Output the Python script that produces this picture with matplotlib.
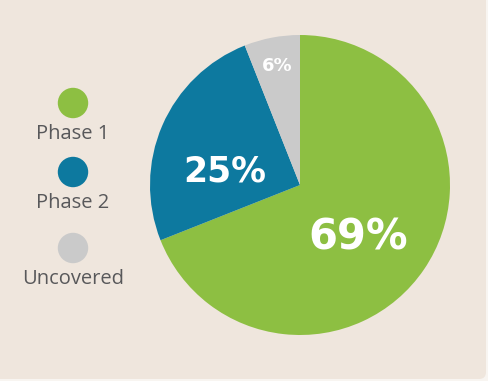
import matplotlib
matplotlib.use("Agg")
import matplotlib.pyplot as plt
from matplotlib.patches import FancyBboxPatch
import numpy as np

# data
categories = ["Phase 1", "Phase 2", "Uncovered"]
shares = [69, 25, 6]
colors = ["#8dbf42", "#0d799f", "#cacaca"]

BG = "#efe6dd"
W, H = 489, 381

fig = plt.figure(figsize=(W / 100, H / 100), dpi=100)
fig.patch.set_facecolor("#f8f5f1")

# card background, only the bottom-right corner shows its rounding
card = fig.add_axes([0, 0, 1, 1])
card.set_xlim(0, W)
card.set_ylim(H, 0)
card.axis("off")
card.add_patch(FancyBboxPatch((-20, -20), 506, 399,
                              boxstyle="round,pad=0,rounding_size=7",
                              facecolor=BG, edgecolor="none"))

# legend: dot with label underneath
leg_x = 73
leg_y = [103, 172, 248]
for name, col, y in zip(categories, colors, leg_y):
    card.scatter([leg_x], [y], s=480, color=col, edgecolors="none", zorder=3)
    card.text(leg_x, y + 31, name, ha="center", va="center",
              fontsize=14.5, color="#58585a", family="Open Sans")

# pie, center (300,185), radius 150 px
ax = fig.add_axes([150 / W, (H - 335) / H, 300 / W, 300 / H])
wedges, _ = ax.pie(shares, colors=colors, startangle=90, counterclock=False,
                   radius=1, wedgeprops=dict(linewidth=0))
ax.set_xlim(-1, 1)
ax.set_ylim(-1, 1)
ax.set_aspect("equal")
ax.axis("off")

label_r = [0.52, 0.51, 0.81]
label_ang = [-42, 170, 101]
label_size = [30, 25, 13]
for v, r, a, fs in zip(shares, label_r, label_ang, label_size):
    t = np.deg2rad(a)
    ax.text(r * np.cos(t), r * np.sin(t), f"{v}%", ha="center", va="center",
            fontsize=fs, color="white", fontweight="bold", family="DejaVu Sans")

fig.savefig("out.png", dpi=100, facecolor=fig.get_facecolor())
